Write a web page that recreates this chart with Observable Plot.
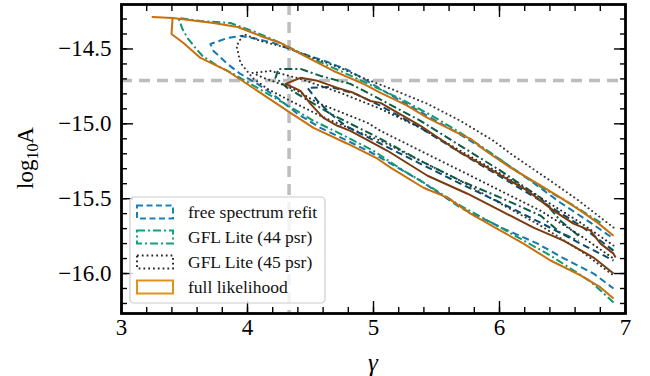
<!DOCTYPE html>
<html><head><meta charset="utf-8">
<script src="https://cdn.jsdelivr.net/npm/d3@7"></script>
<script src="https://cdn.jsdelivr.net/npm/@observablehq/plot@0.6"></script>
<style>body{margin:0;background:#fff}#chart{width:650px;height:376px}</style>
</head><body><div id="chart"></div>
<script>
// ---------- data (gamma, log10 A) ----------
const fullOuterGamma = [6.905,6.778,6.643,6.484,6.302,6.087,5.889,5.770,5.667,5.429,5.270,5.190,5.056,4.921,4.683,4.421,4.262,4.103,3.921,3.730,3.405,3.246,3.405,3.397,3.492,3.627,3.841,4.079,4.317,4.524,4.794,5.032,5.135,5.397,5.587,5.770,6.008,6.190,6.405,6.643,6.802,6.905];
const fullOuterLogA = [-15.747,-15.66,-15.58,-15.493,-15.40,-15.293,-15.18,-15.10,-15.06,-14.96,-14.88,-14.847,-14.793,-14.733,-14.647,-14.533,-14.46,-14.413,-14.353,-14.327,-14.293,-14.287,-14.293,-14.40,-14.46,-14.56,-14.647,-14.78,-14.913,-15.027,-15.133,-15.233,-15.293,-15.427,-15.493,-15.60,-15.713,-15.80,-15.913,-16.013,-16.093,-16.167];

const gfl44OuterGamma = [6.802,6.563,6.325,6.087,5.849,5.651,5.452,5.214,4.976,4.738,4.500,4.262,4.063,3.865,3.627,3.452,3.484,3.524,3.587,3.643,3.762,3.889,4.079,4.286,4.524,4.738,5.000,5.214,5.373,5.690,6.008,6.405,6.722,6.905];
const gfl44OuterLogA = [-15.66,-15.533,-15.42,-15.287,-15.147,-15.04,-14.94,-14.833,-14.74,-14.647,-14.56,-14.46,-14.387,-14.327,-14.313,-14.293,-14.367,-14.427,-14.493,-14.547,-14.613,-14.667,-14.76,-14.86,-14.98,-15.067,-15.18,-15.30,-15.38,-15.547,-15.693,-15.88,-16.053,-16.193];

const freeOuterGamma = [6.881,6.722,6.484,6.246,5.952,5.690,5.373,5.135,4.897,4.794,4.635,4.421,4.206,4.079,3.944,3.841,3.706,3.730,3.841,3.944,4.079,4.238,4.397,4.579,4.794,5.000,5.373,5.690,6.032,6.302,6.484,6.746,6.905];
const freeOuterLogA = [-15.753,-15.66,-15.527,-15.38,-15.207,-15.073,-14.92,-14.807,-14.687,-14.64,-14.587,-14.527,-14.46,-14.433,-14.413,-14.427,-14.467,-14.513,-14.60,-14.667,-14.733,-14.827,-14.933,-15.027,-15.113,-15.20,-15.38,-15.56,-15.70,-15.80,-15.887,-16.00,-16.10];

const gfl45OuterGamma = [6.905,6.619,6.381,6.111,5.952,5.690,5.429,5.159,4.897,4.738,4.524,4.317,4.103,3.968,3.913,3.944,4.040,4.159,4.341,4.579,4.817,5.056,5.373,5.690,6.008,6.325,6.643,6.905];
const gfl45OuterLogA = [-15.693,-15.507,-15.367,-15.213,-15.113,-14.98,-14.867,-14.773,-14.687,-14.627,-14.56,-14.493,-14.447,-14.40,-14.48,-14.593,-14.693,-14.767,-14.847,-14.947,-15.033,-15.113,-15.247,-15.38,-15.533,-15.68,-15.847,-16.013];

const fullInnerGamma = [6.921,6.905,6.802,6.722,6.587,6.429,6.222,5.905,5.667,5.373,5.056,4.976,4.841,4.714,4.556,4.421,4.302,4.421,4.500,4.603,4.714,4.817,5.111,5.429,5.746,6.008,6.270,6.508,6.746,6.905];
const fullInnerLogA = [-15.893,-15.867,-15.80,-15.713,-15.667,-15.58,-15.447,-15.293,-15.18,-15.013,-14.86,-14.847,-14.793,-14.76,-14.713,-14.693,-14.733,-14.78,-14.867,-14.96,-15.013,-15.047,-15.18,-15.347,-15.467,-15.58,-15.693,-15.78,-15.893,-16.00];

const freeInnerGamma = [6.905,6.643,6.325,6.008,5.690,5.373,5.056,4.857,4.659,4.476,4.556,4.659,4.778,5.056,5.373,5.690,6.008,6.325,6.643,6.905];
const freeInnerLogA = [-15.847,-15.68,-15.513,-15.353,-15.193,-15.027,-14.88,-14.80,-14.753,-14.76,-14.847,-14.933,-15.013,-15.133,-15.267,-15.40,-15.527,-15.66,-15.80,-15.913];

const gfl44InnerGamma = [6.627,6.484,6.325,6.008,5.690,5.373,5.032,4.817,4.579,4.421,4.246,4.222,4.317,4.421,4.659,5.056,5.373,5.690,6.008,6.325,6.484,6.627];
const gfl44InnerLogA = [-15.747,-15.647,-15.493,-15.313,-15.147,-14.98,-14.827,-14.733,-14.68,-14.633,-14.633,-14.693,-14.76,-14.813,-14.933,-15.10,-15.247,-15.38,-15.493,-15.613,-15.727,-15.78];

const gfl45InnerGamma = [6.905,6.643,6.325,6.008,5.690,5.373,5.056,4.738,4.421,4.183,4.040,4.127,4.262,4.397,4.556,4.714,4.952,5.056,5.373,5.690,6.008,6.325,6.643,6.905];
const gfl45InnerLogA = [-15.813,-15.66,-15.493,-15.333,-15.18,-15.027,-14.90,-14.793,-14.70,-14.647,-14.66,-14.693,-14.733,-14.78,-14.86,-14.913,-14.993,-15.047,-15.18,-15.313,-15.447,-15.58,-15.747,-15.90];

const crossGamma = [4.33];
const crossLogA = [-14.71];

const xTickValues = [3, 4, 5, 6, 7];
const yTickValues = [-16.0, -15.5, -15.0, -14.5];
const legendLabels = ["free spectrum refit", "GFL Lite (44 psr)", "GFL Lite (45 psr)", "full likelihood"];
const legendColors = ["#1a80bb", "#14a078", "#2b2b2b", "#e0921a"];
const legendDashes = ["6,3.5", "8,3,2,3", "1.8,3", null];

// ---------- build contour tables ----------
const contours = [
  {g: freeOuterGamma, a: freeOuterLogA, color: "#1677b2", dash: "7,4", cap: "butt"},
  {g: gfl44OuterGamma, a: gfl44OuterLogA, color: "#0f9a70", dash: "8,3,2,3", cap: "butt"},
  {g: gfl45OuterGamma, a: gfl45OuterLogA, color: "#333333", dash: "0.1,4.4", cap: "round"},
  {g: fullOuterGamma, a: fullOuterLogA, color: "#c8700e", dash: null, cap: "butt"},
  {g: freeInnerGamma, a: freeInnerLogA, color: "#0c4a6e", dash: "7,4", cap: "butt"},
  {g: gfl44InnerGamma, a: gfl44InnerLogA, color: "#0d5c47", dash: "8,3,2,3", cap: "butt"},
  {g: gfl45InnerGamma, a: gfl45InnerLogA, color: "#2a2a2a", dash: "0.1,4.4", cap: "round"},
  {g: fullInnerGamma, a: fullInnerLogA, color: "#7a3c10", dash: null, cap: "butt"}
];
const rowsOf = c => c.g.map((g, i) => ({gamma: g, logA: c.a[i]}));

const xMinor = d3.range(3, 7.0001, 0.2);
const yMinor = d3.range(-16.2, -14.2, 0.1);
const fmt = d => d3.format(".1f")(d).replace("-", "\u2212");
const font = "Liberation Serif, Times New Roman, Times, DejaVu Serif, serif";

const plot = Plot.plot({
  width: 650, height: 376,
  marginLeft: 121, marginRight: 25, marginTop: 4, marginBottom: 63,
  style: {fontFamily: font, background: "#fff"},
  x: {domain: [3, 7]},
  y: {domain: [-16.267, -14.203]},
  marks: [
    Plot.ruleX(crossGamma, {x: d => d, stroke: "#bdbdbd", strokeWidth: 3.5, strokeDasharray: "11,7"}),
    Plot.ruleY(crossLogA, {y: d => d, stroke: "#bdbdbd", strokeWidth: 3.5, strokeDasharray: "11,7"}),
    ...contours.map(c => Plot.line(rowsOf(c), {x: "gamma", y: "logA", stroke: c.color, strokeWidth: 2, strokeDasharray: c.dash, strokeLinecap: c.cap, strokeLinejoin: "round"})),
    // inward ticks on all four sides
    Plot.axisX(xMinor, {anchor: "bottom", tickSize: -6, tickFormat: () => "", strokeWidth: 1.4, label: null}),
    Plot.axisX(xMinor, {anchor: "top", tickSize: -6, tickFormat: () => "", strokeWidth: 1.4, label: null}),
    Plot.axisX(xTickValues, {anchor: "bottom", tickSize: -12, tickFormat: () => "", strokeWidth: 1.4, label: null}),
    Plot.axisX(xTickValues, {anchor: "top", tickSize: -12, tickFormat: () => "", strokeWidth: 1.4, label: null}),
    Plot.axisY(yMinor, {anchor: "left", tickSize: -6, tickFormat: () => "", strokeWidth: 1.4, label: null}),
    Plot.axisY(yMinor, {anchor: "right", tickSize: -6, tickFormat: () => "", strokeWidth: 1.4, label: null}),
    Plot.axisY(yTickValues, {anchor: "left", tickSize: -12, tickFormat: () => "", strokeWidth: 1.4, label: null}),
    Plot.axisY(yTickValues, {anchor: "right", tickSize: -12, tickFormat: () => "", strokeWidth: 1.4, label: null}),
    // tick labels
    Plot.axisX(xTickValues, {anchor: "bottom", tickSize: 0, tickPadding: 5, tickFormat: d => String(d), fontSize: 23, label: null, fill: "#000"}),
    Plot.axisY(yTickValues, {anchor: "left", tickSize: 0, tickPadding: 10, tickFormat: fmt, fontSize: 23, label: null, fill: "#000"}),
    Plot.frame({stroke: "#000", strokeWidth: 2.8})
  ]
});
document.getElementById("chart").appendChild(plot);

const svg = d3.select(plot);
svg.style("overflow", "visible").attr("font-family", font);
svg.selectAll("text").attr("font-family", font);

// axis titles
svg.append("text").attr("x", 373).attr("y", 371).attr("text-anchor", "middle")
  .attr("font-family", font).attr("font-size", 25).attr("font-style", "italic").text("\u03b3");
const yl = svg.append("text").attr("transform", "translate(33,158) rotate(-90)").attr("text-anchor", "middle")
  .attr("font-family", font).attr("font-size", 23);
yl.append("tspan").text("log");
yl.append("tspan").attr("font-size", 16).attr("dy", 5).text("10");
yl.append("tspan").attr("dy", -5).text("A");

// legend
const lg = svg.append("g");
lg.append("rect").attr("x", 130).attr("y", 197).attr("width", 195).attr("height", 106).attr("rx", 4)
  .attr("fill", "#fff").attr("fill-opacity", 0.8).attr("stroke", "#cccccc").attr("stroke-width", 1.2);
legendLabels.forEach((lab, i) => {
  const cy = 212 + i * 25;
  lg.append("rect").attr("x", 137).attr("y", cy - 6.5).attr("width", 36).attr("height", 13)
    .attr("fill", "none").attr("stroke", legendColors[i]).attr("stroke-width", 2)
    .attr("stroke-dasharray", legendDashes[i]);
  lg.append("text").attr("x", 188).attr("y", cy).attr("dy", "0.35em").attr("text-anchor", "start")
    .attr("font-family", font).attr("font-size", 17.5).attr("fill", "#111").text(lab);
});
</script></body></html>
